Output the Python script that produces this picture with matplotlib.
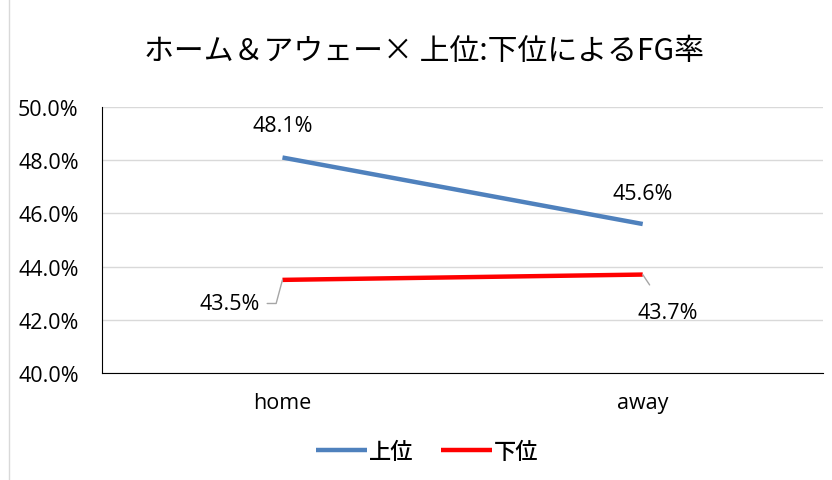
import matplotlib
matplotlib.use("Agg")
import matplotlib.pyplot as plt
from matplotlib.lines import Line2D

plt.rcParams['font.family'] = ['Noto Sans CJK JP', 'DejaVu Sans']

categories = ["home", "away"]
upper = [48.1, 45.6]
lower = [43.5, 43.7]
series_names = ["上位", "下位"]
title = "ホーム＆アウェー× 上位:下位によるFG率"

fig = plt.figure(figsize=(8.32, 4.81), dpi=100)
ax = fig.add_axes([0.123, 0.2225, 0.866, 0.553])

x = [0, 1]
ax.plot(x, upper, color="#4F81BD", lw=3.2, label=series_names[0], solid_capstyle="butt")
ax.plot(x, lower, color="#FF0000", lw=3.2, label=series_names[1], solid_capstyle="butt")
ax.set_xlim(-0.5, 1.5)
ax.set_ylim(40, 50)
yt = [40, 42, 44, 46, 48, 50]
ax.set_yticks(yt)
ax.set_yticklabels([f"{v:.1f}%" for v in yt])
ax.set_xticks(x)
ax.set_xticklabels(categories)
ax.grid(axis="y", color="#D9D9D9", lw=1)
ax.set_axisbelow(True)
for s in ["top", "right"]:
    ax.spines[s].set_visible(False)
ax.spines["left"].set_color("black")
ax.spines["bottom"].set_color("black")
fam = ["Open Sans", "DejaVu Sans"]
fs = 15.5
ax.tick_params(axis="both", length=0, labelsize=fs)
ax.tick_params(axis="y", pad=17)
ax.tick_params(axis="x", pad=14)
for lab in ax.get_xticklabels() + ax.get_yticklabels():
    lab.set_family(fam)

ax.annotate(f"{upper[0]:.1f}%", (0, upper[0]), xytext=(0, 23), textcoords="offset points",
            ha="center", va="center", fontsize=fs, family=fam)
ax.annotate(f"{upper[1]:.1f}%", (1, upper[1]), xytext=(0, 22), textcoords="offset points",
            ha="center", va="center", fontsize=fs, family=fam)
ax.annotate(f"{lower[0]:.1f}%", (0, lower[0]), xytext=(-16, -17), textcoords="offset points",
            ha="right", va="center", fontsize=fs, family=fam,
            arrowprops=dict(arrowstyle="-", color="#A6A6A6", lw=1,
                            connectionstyle="angle,angleA=0,angleB=75,rad=0", shrinkA=3, shrinkB=0))
ax.annotate(f"{lower[1]:.1f}%", (1, lower[1]), xytext=(18, -27), textcoords="offset points",
            ha="center", va="center", fontsize=fs, family=fam,
            arrowprops=dict(arrowstyle="-", color="#A6A6A6", lw=1, shrinkA=12, shrinkB=0))

fig.text(0.510, 0.892, title, ha="center", va="center", fontsize=21.5)

leg = ax.legend(loc="center", bbox_to_anchor=(0.451, -0.295), ncol=2, frameon=False,
                prop=dict(size=16, weight="medium"), handlelength=2.3, columnspacing=1.2,
                handletextpad=0.1)

fig.add_artist(Line2D([0.0105, 0.0105], [0, 1], transform=fig.transFigure, color="#D9D9D9", lw=1))

fig.savefig("out.png", dpi=100)
